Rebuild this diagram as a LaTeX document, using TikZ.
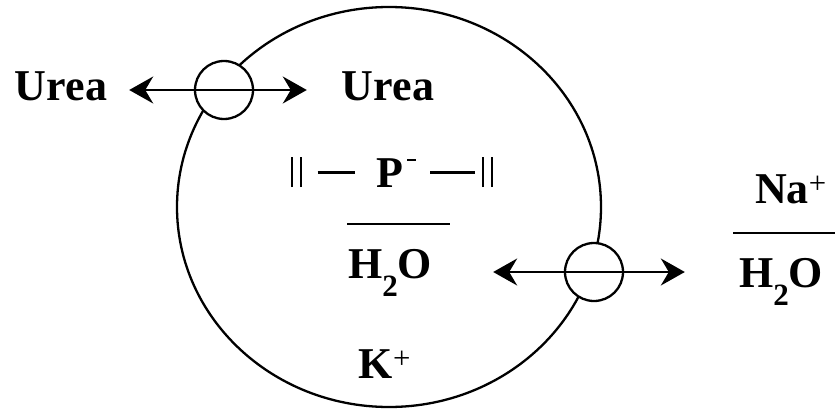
\documentclass[tikz,border=0pt]{standalone}
\usepackage{fontspec}
\setmainfont{Liberation Serif}
\usetikzlibrary{arrows.meta}
\newcommand{\hwater}{H\raisebox{-.42em}{\fontsize{31}{34}\selectfont 2}O}
\newcommand{\dbar}{\rule{1.8pt}{.68em}\hspace{7pt}\rule{1.8pt}{.68em}}
\newcommand{\bond}[1]{\rule[.3em]{#1}{2.4pt}}
\tikzset{
  ion/.style={inner sep=0pt, anchor=base, font=\fontsize{44}{52}\selectfont\bfseries},
  membrane/.style={draw, line width=2.3pt},
  pore/.style={circle, draw, fill=white, line width=2.3pt, minimum size=58pt, inner sep=0pt},
  flux/.style={line width=1.9pt, >={Stealth[length=24pt,width=27pt,inset=8pt]}, <->},
  bar/.style={line width=2pt},
}
\begin{document}
\begin{tikzpicture}[x=1pt,y=1pt]
  \useasboundingbox (0,0) rectangle (835,408);
  % cell membrane with two pores
  \draw[membrane] (389,201) ellipse [x radius=212, y radius=200];
  \node (pore1) [pore] at (224,318) {};
  \node (pore2) [pore] at (594,136) {};

  \node (ureaout) [ion] at (61,308)  {Urea};
  \node (ureain)  [ion] at (388,308) {Urea};
  \node (anion)   [ion] at (392,221) {\dbar\hspace{16pt}\bond{37pt}\hspace{22pt}P\hspace{4pt}\raisebox{.58em}{\rule{9pt}{2.4pt}}\hspace{14pt}\bond{45pt}\hspace{7pt}\dbar};
  \node (h2oin)   [ion] at (390,130) {\hwater};
  \node (kin)     [ion] at (385,30)  {K\textsuperscript{\mdseries +}};
  \node (naout)   [ion] at (791,205) {Na\textsuperscript{\mdseries +}};
  \node (h2oout)  [ion] at (781,121) {\hwater};

  \draw[bar] (347,184) -- (450,184);
  \draw[bar] (733,175) -- (835,175);

  \draw[flux, shorten <=22pt, shorten >=35pt] (ureaout.east |- pore1) -- (ureain.west |- pore1);
  \draw[flux, shorten <=61pt, shorten >=54pt] (h2oin.east |- pore2) -- (h2oout.west |- pore2);
\end{tikzpicture}
\end{document}
